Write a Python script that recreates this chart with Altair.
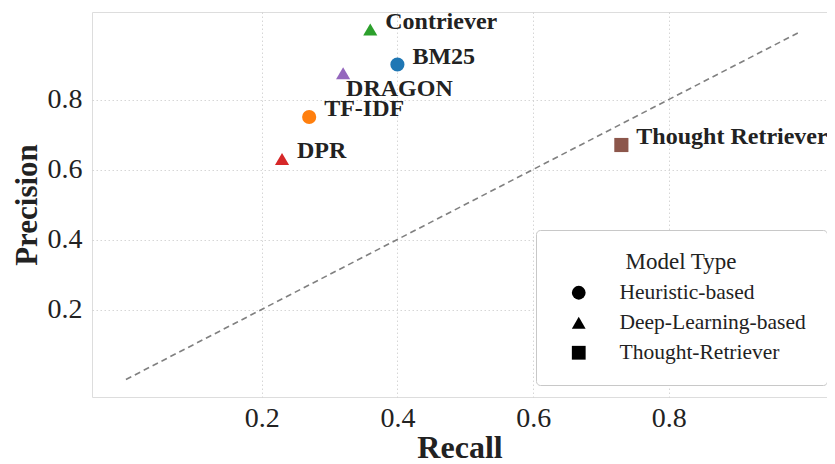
import altair as alt
import pandas as pd

models = ["BM25", "TF-IDF", "Contriever", "DPR", "DRAGON", "Thought Retriever"]
recall = [0.40, 0.27, 0.36, 0.23, 0.32, 0.73]
precision = [0.90, 0.75, 1.00, 0.63, 0.875, 0.67]
model_types = ["Heuristic-based", "Heuristic-based", "Deep-Learning-based",
               "Deep-Learning-based", "Deep-Learning-based", "Thought-Retriever"]
colors = ["#1f77b4", "#ff7f0e", "#2ca02c", "#d62728", "#9467bd", "#8c564b"]
type_order = ["Heuristic-based", "Deep-Learning-based", "Thought-Retriever"]
type_shapes = ["circle", "triangle-up", "square"]
ticks = [0.2, 0.4, 0.6, 0.8]
diag_x = [0.0, 0.99]
diag_y = [0.0, 0.99]

df = pd.DataFrame({"model": models, "recall": recall, "precision": precision, "type": model_types})
diag = pd.DataFrame({"recall": diag_x, "precision": diag_y})

FONT = "Liberation Serif"

xs = alt.Scale(domain=[-0.05, 1.033], nice=False, zero=False)
ys = alt.Scale(domain=[-0.05, 1.05], nice=False, zero=False)

xaxis = alt.Axis(values=ticks, format=".1f", title="Recall", grid=True, domain=False, ticks=False,
                 labelFontSize=28, labelFont=FONT, labelColor="#222222", labelPadding=7,
                 titleFont=FONT, titleFontSize=32, titleFontWeight="bold", titleColor="#222222",
                 titlePadding=0, gridColor="#cccccc", gridDash=[1.5, 2.5], gridWidth=0.8)
yaxis = alt.Axis(values=ticks, format=".1f", title="Precision", grid=True, domain=False, ticks=False,
                 labelFontSize=28, labelFont=FONT, labelColor="#222222", labelPadding=10,
                 titleFont=FONT, titleFontSize=31, titleFontWeight="bold", titleColor="#222222",
                 titlePadding=4, gridColor="#cccccc", gridDash=[1.5, 2.5], gridWidth=0.8)

line = alt.Chart(diag).mark_line(color="#808080", strokeDash=[6, 4], strokeWidth=1.6).encode(
    x=alt.X("recall:Q", scale=xs, axis=xaxis),
    y=alt.Y("precision:Q", scale=ys, axis=yaxis),
)

points = alt.Chart(df).mark_point(filled=True, size=200, opacity=1).encode(
    x=alt.X("recall:Q", scale=xs),
    y=alt.Y("precision:Q", scale=ys),
    color=alt.Color("model:N", scale=alt.Scale(domain=models, range=colors), legend=None),
    shape=alt.Shape("type:N", scale=alt.Scale(domain=type_order, range=type_shapes),
                    legend=alt.Legend(title="Model Type", orient="none", legendX=444, legendY=218,
                                      titleFont=FONT, titleFontSize=23, titleFontWeight="normal",
                                      titleColor="#222222", titleAnchor="middle", titlePadding=8,
                                      labelFont=FONT, labelFontSize=21.5, labelColor="#222222",
                                      labelLimit=400,
                                      labelOffset=30, symbolOffset=11, symbolSize=190,
                                      symbolFillColor="black", symbolStrokeColor="black",
                                      symbolStrokeWidth=0, rowPadding=7, padding=21,
                                      strokeColor="#c8c8c8", fillColor="white", cornerRadius=4)),
)

label_style = dict(align="left", baseline="middle", font=FONT, fontSize=24, fontWeight="bold", color="#222222")

labels = alt.Chart(df).transform_filter(alt.datum.model != "DRAGON").mark_text(
    dx=15, dy=-8, **label_style).encode(
    x=alt.X("recall:Q", scale=xs),
    y=alt.Y("precision:Q", scale=ys),
    text="model:N",
)
labels_dragon = alt.Chart(df).transform_filter(alt.datum.model == "DRAGON").mark_text(
    dx=3, dy=16, **label_style).encode(
    x=alt.X("recall:Q", scale=xs),
    y=alt.Y("precision:Q", scale=ys),
    text="model:N",
)

chart = alt.layer(line, points, labels, labels_dragon).properties(
    width=735, height=385,
    autosize=alt.AutoSizeParams(type="none"),
    padding={"left": 84, "top": 4, "right": 0, "bottom": 67},
).configure_view(stroke="#dddddd", strokeWidth=1.5).configure(background="white")

chart.save("out.html", embed_options={"renderer": "svg", "actions": False})
